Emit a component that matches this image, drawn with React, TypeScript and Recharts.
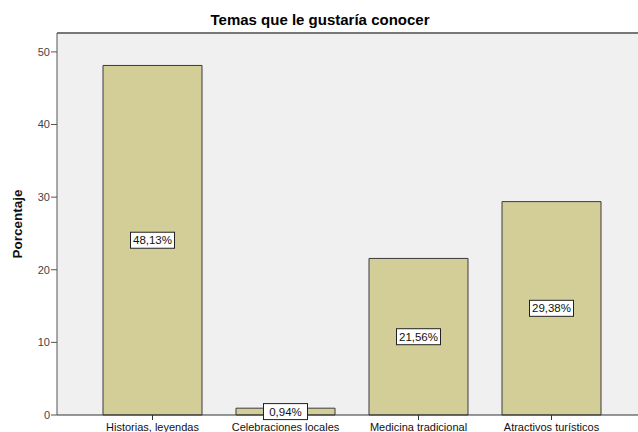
import React from "react";
import { BarChart, Bar, XAxis, YAxis, CartesianGrid, LabelList, ReferenceLine } from "recharts";

const categories = ["Historias, leyendas", "Celebraciones locales", "Medicina tradicional", "Atractivos turísticos"];
const percentages = [48.13, 0.94, 21.56, 29.38];
const yTicks = [0, 10, 20, 30, 40, 50];

const data = categories.map((name, i) => ({ name, value: percentages[i] }));

const font = "'Liberation Sans', Arial, sans-serif";

const BoxLabel = (props: any) => {
  const { x, y, width, height, value } = props;
  const text = value.toFixed(2).replace(".", ",") + "%";
  const cx = x + width / 2;
  const cy = y + height / 2;
  const w = 44;
  const h = 16;
  return (
    <g>
      <rect x={cx - w / 2} y={cy - h / 2} width={w} height={h} fill="#fff" stroke="#222" strokeWidth={1} />
      <text x={cx} y={cy + 4} textAnchor="middle" fontSize={11.5} fontFamily={font} fill="#111">
        {text}
      </text>
    </g>
  );
};

export default function App() {
  return (
    <div style={{ position: "absolute", left: 0, top: 0, width: 638, height: 432, background: "#fff" }}>
      <div style={{ position: "absolute", top: 11, left: 0, width: 640, textAlign: "center", fontFamily: font, fontWeight: "bold", fontSize: 15 }}>
        Temas que le gustaría conocer
      </div>
      <BarChart width={638} height={432} data={data} margin={{ top: 33, right: 0, left: 0, bottom: 0 }} style={{ overflow: "visible" }}>
        <CartesianGrid fill="#F0F0F0" stroke="none" horizontal={false} vertical={false} />
        <ReferenceLine y={52.6} stroke="#777" strokeWidth={2} />
        <XAxis
          dataKey="name"
          height={17}
          padding={{ left: 29, right: 20 }}
          stroke="#333"
          tickLine={{ stroke: "#333" }}
          tickSize={5}
          tickMargin={3}
          interval={0}
          tick={{ fontSize: 11, fontFamily: font, fill: "#111" }}
        />
        <YAxis
          width={57}
          domain={[0, 52.6]}
          ticks={yTicks}
          stroke="#555"
          tickSize={6}
          tickMargin={1}
          tick={{ fontSize: 11, fontFamily: font, fill: "#444" }}
          label={{ value: "Porcentaje", angle: -90, position: "insideLeft", offset: 17, style: { fontFamily: font, fontWeight: "bold", fontSize: 13.5, fill: "#111", textAnchor: "middle" } }}
        />
        <Bar dataKey="value" barSize={99} fill="#D3CE98" stroke="#3a3a3a" strokeWidth={1} isAnimationActive={false}>
          <LabelList dataKey="value" content={BoxLabel} />
        </Bar>
      </BarChart>
    </div>
  );
}
